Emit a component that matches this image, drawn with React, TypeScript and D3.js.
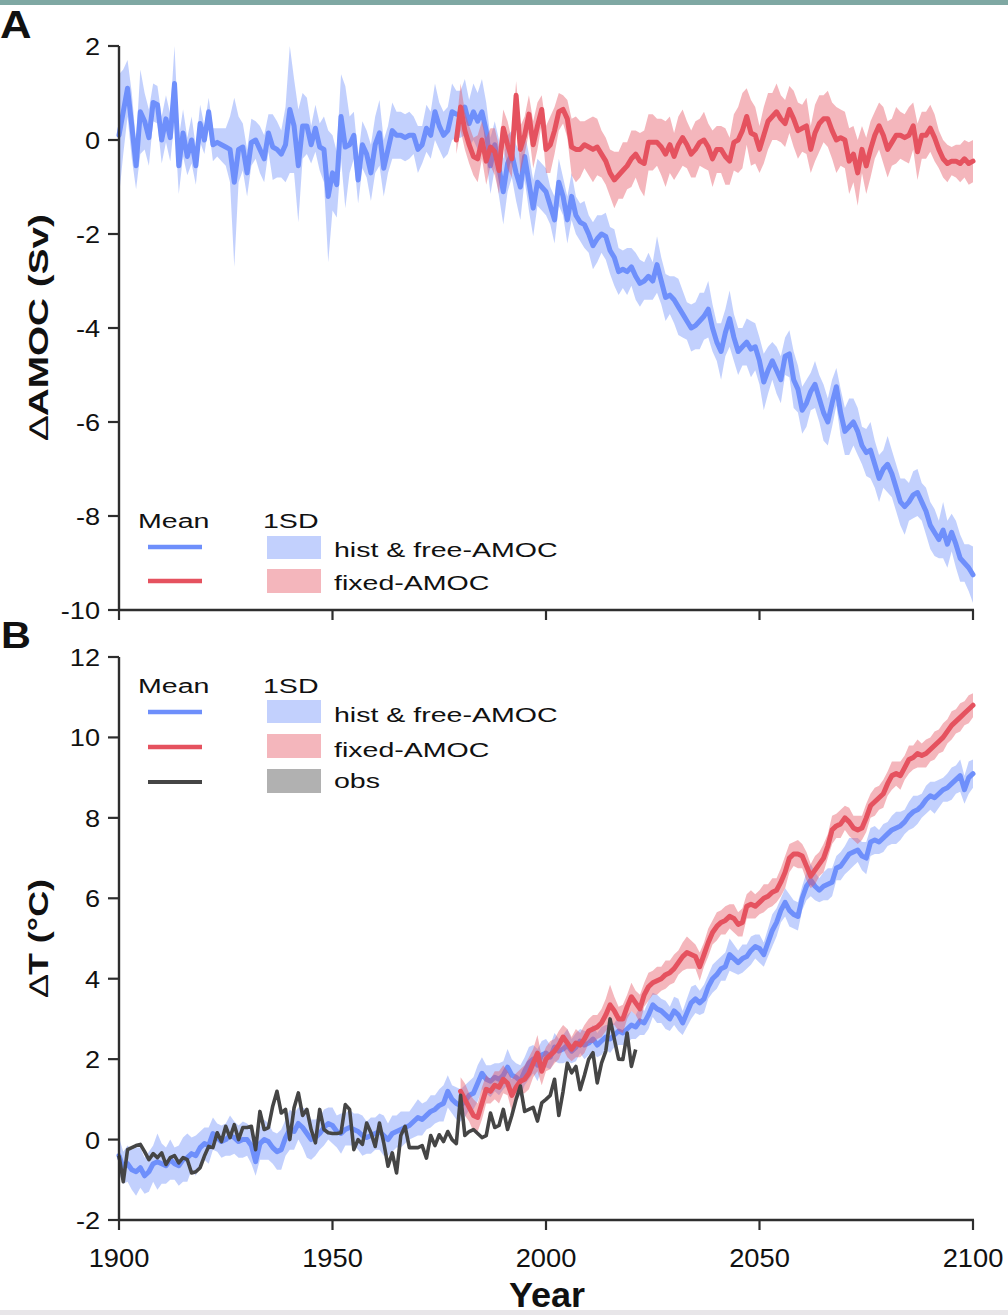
import React from "react";
import * as d3 from "d3";

// ---------- tick labels ----------
const xTicks = [1900, 1950, 2000, 2050, 2100];
const yTicksA = [2, 0, -2, -4, -6, -8, -10];
const yTicksB = [-2, 0, 2, 4, 6, 8, 10, 12];

// ---------- Panel A: AMOC anomaly (Sv) ----------
const amocFreeStart = 1900;
const amocFreeMean = [
  0.1, 0.6, 1.1, 0.3, -0.55, 0.6, 0.4, 0.05, 0.8, 0.75,
  0.0, 0.45, 0.05, 1.2, -0.55, 0.15, -0.35, 0.0, -0.55, 0.35,
  0.0, 0.6, -0.1, -0.05, -0.1, -0.15, -0.2, -0.9, -0.2, -0.15,
  -0.7, -0.05, 0.0, -0.2, -0.4, 0.15, -0.15, -0.2, -0.3, -0.1,
  0.65, 0.3, -0.55, 0.3, 0.3, -0.1, 0.25, -0.15, -0.2, -1.2,
  -0.7, -0.95, 0.5, -0.15, -0.1, 0.1, -0.85, -0.1, -0.3, -0.7,
  -0.1, 0.15, -0.6, -0.2, 0.2, 0.1, 0.1, 0.05, 0.1, 0.1,
  -0.2, -0.1, 0.25, 0.1, 0.6, 0.3, 0.1, 0.2, 0.6, 0.55,
  0.55, 0.7, 0.35, 0.6, 0.4, 0.6, 0.2, -0.55, -0.1, -0.6,
  -1.1, -0.5, -0.3, -0.7, -1.0, -0.35, -0.9, -1.45, -0.9, -1.0,
  -1.1, -1.4, -1.7, -0.9, -1.2, -1.7, -1.2, -1.6, -1.75, -1.8,
  -2.0, -2.25, -2.1, -2.0, -2.05, -2.35, -2.5, -2.8, -2.75, -2.8,
  -2.7, -2.9, -3.05, -3.0, -2.9, -3.0, -2.65, -3.0, -3.35, -3.3,
  -3.4, -3.55, -3.7, -3.85, -4.0, -3.95, -3.85, -3.75, -3.6, -4.0,
  -4.3, -4.5, -4.1, -3.8, -4.2, -4.5, -4.4, -4.3, -4.45, -4.4,
  -4.7, -5.15, -4.9, -4.7, -4.9, -5.1, -4.6, -4.55, -5.1, -5.3,
  -5.75, -5.6, -5.35, -5.2, -5.5, -5.8, -6.0, -5.6, -5.25, -5.8,
  -6.2, -6.1, -6.0, -6.2, -6.5, -6.65, -6.6, -6.9, -7.2, -7.0,
  -6.9, -7.1, -7.4, -7.7, -7.8, -7.7, -7.55, -7.5, -7.7, -7.9,
  -8.2, -8.35, -8.5, -8.3, -8.6, -8.35, -8.6, -8.9, -9.0, -9.1,
  -9.25,
];
const amocFreeSd = [
  1.3, 0.9, 0.6, 0.7, 0.5, 0.9, 0.6, 0.6, 0.4, 0.4,
  0.5, 0.5, 0.5, 0.8, 0.6, 0.5, 0.4, 0.5, 0.4, 0.4,
  0.3, 0.3, 0.35, 0.3, 0.35, 0.4, 0.7, 1.8, 0.7, 0.5,
  0.5, 0.5, 0.4, 0.5, 0.5, 0.4, 0.7, 0.6, 0.5, 0.8,
  1.35, 1.0, 1.2, 0.7, 0.6, 0.4, 0.5, 0.5, 0.7, 1.4,
  0.8, 0.7, 0.9, 1.3, 0.6, 0.5, 0.5, 0.5, 0.5, 0.6,
  0.6, 0.7, 0.6, 0.5, 0.6, 0.5, 0.5, 0.5, 0.5, 0.4,
  0.5, 0.4, 0.5, 0.5, 0.6, 0.5, 0.5, 0.5, 0.6, 0.5,
  0.5, 0.6, 0.5, 0.6, 0.6, 0.7, 0.6, 0.6, 0.5, 0.6,
  0.7, 0.6, 0.5, 0.6, 0.7, 0.5, 0.6, 0.6, 0.5, 0.5,
  0.5, 0.4, 0.5, 0.5, 0.4, 0.5, 0.5, 0.4, 0.4, 0.5,
  0.4, 0.5, 0.5, 0.4, 0.5, 0.5, 0.6, 0.5, 0.4, 0.5,
  0.4, 0.5, 0.5, 0.4, 0.5, 0.4, 0.6, 0.5, 0.5, 0.4,
  0.5, 0.6, 0.5, 0.4, 0.5, 0.5, 0.6, 0.5, 0.6, 0.5,
  0.4, 0.6, 0.5, 0.6, 0.5, 0.5, 0.4, 0.5, 0.6, 0.5,
  0.5, 0.6, 0.5, 0.4, 0.5, 0.5, 0.4, 0.5, 0.6, 0.5,
  0.5, 0.5, 0.4, 0.5, 0.5, 0.6, 0.5, 0.5, 0.4, 0.5,
  0.5, 0.6, 0.5, 0.5, 0.4, 0.5, 0.6, 0.5, 0.5, 0.4,
  0.6, 0.5, 0.5, 0.5, 0.6, 0.4, 0.5, 0.5, 0.4, 0.5,
  0.5, 0.5, 0.4, 0.6, 0.5, 0.4, 0.5, 0.5, 0.4, 0.5,
  0.6,
];
const amocFixedStart = 1979;
const amocFixedMean = [
  0.0,
  0.7, 0.2, -0.1, -0.35, -0.4, 0.0, -0.45, -0.15, -0.25, -0.65,
  0.25, -0.1, -0.4, 0.95, -0.2, 0.1, 0.55, -0.1, 0.3, 0.65,
  -0.2, -0.1, 0.2, 0.6, 0.65, 0.45, -0.15, -0.2, -0.2, -0.1,
  -0.15, -0.2, -0.15, -0.3, -0.45, -0.7, -0.85, -0.75, -0.65, -0.55,
  -0.4, -0.3, -0.45, -0.5, -0.05, -0.05, -0.05, -0.15, -0.3, -0.1,
  -0.35, -0.1, 0.05, -0.1, -0.3, -0.2, -0.05, 0.0, -0.15, -0.4,
  -0.2, -0.2, -0.35, -0.45, -0.05, 0.0, 0.2, 0.5, 0.15, 0.1,
  -0.2, 0.1, 0.4, 0.5, 0.6, 0.45, 0.35, 0.65, 0.45, 0.2,
  0.25, 0.3, -0.2, 0.15, 0.35, 0.45, 0.45, 0.2, 0.0, 0.05,
  0.0, -0.45, -0.3, -0.7, -0.2, -0.55, -0.2, 0.1, 0.3, 0.1,
  -0.2, -0.05, 0.1, 0.1, 0.05, 0.1, 0.3, -0.25, 0.1, 0.1,
  0.25, 0.05, -0.2, -0.4, -0.5, -0.45, -0.45, -0.5, -0.4, -0.5,
  -0.45,
];
const amocFixedSd = [
  0.3,
  0.5, 0.4, 0.4, 0.4, 0.5, 0.4, 0.5, 0.4, 0.5, 0.5,
  0.4, 0.5, 0.4, 0.3, 0.5, 0.4, 0.4, 0.5, 0.5, 0.3,
  0.5, 0.6, 0.5, 0.4, 0.3, 0.4, 0.6, 0.7, 0.6, 0.5,
  0.6, 0.7, 0.6, 0.5, 0.5, 0.5, 0.6, 0.5, 0.6, 0.5,
  0.6, 0.5, 0.6, 0.7, 0.6, 0.6, 0.5, 0.6, 0.7, 0.6,
  0.5, 0.6, 0.6, 0.5, 0.5, 0.6, 0.5, 0.6, 0.5, 0.6,
  0.5, 0.5, 0.6, 0.5, 0.6, 0.7, 0.8, 0.6, 0.7, 0.6,
  0.5, 0.6, 0.6, 0.5, 0.6, 0.5, 0.5, 0.5, 0.6, 0.6,
  0.5, 0.6, 0.5, 0.6, 0.6, 0.5, 0.6, 0.6, 0.7, 0.6,
  0.6, 0.7, 0.6, 0.7, 0.5, 0.6, 0.6, 0.5, 0.5, 0.6,
  0.6, 0.5, 0.6, 0.5, 0.5, 0.6, 0.5, 0.6, 0.5, 0.5,
  0.5, 0.5, 0.4, 0.4, 0.4, 0.3, 0.35, 0.4, 0.4, 0.45,
  0.45,
];

// ---------- Panel B: temperature anomaly (°C) ----------
const tFreeStart = 1900;
const tFreeMean = [
  -0.4, -0.7, -0.6, -0.75, -0.8, -0.7, -0.9, -0.8, -0.6, -0.55,
  -0.6, -0.65, -0.5, -0.6, -0.65, -0.5, -0.45, -0.35, -0.4, -0.2,
  -0.1, -0.15, 0.15, 0.05, -0.05, 0.0, 0.1, 0.05, -0.05, 0.0,
  0.0, -0.15, -0.55, -0.1, 0.0, -0.05, -0.2, -0.3, -0.25, 0.05,
  0.25, 0.2, 0.4, 0.3, 0.15, 0.0, 0.05, 0.15, 0.3, 0.4,
  0.35, 0.2, 0.15, 0.25, 0.3, 0.25, 0.2, 0.1, 0.05, 0.1,
  0.15, 0.2, 0.1, 0.0, 0.15, 0.2, 0.25, 0.3, 0.35, 0.45,
  0.55, 0.5, 0.6, 0.7, 0.75, 0.85, 0.9, 1.2, 1.0, 0.9,
  0.85, 0.95, 1.1, 1.15, 1.4, 1.65, 1.5, 1.45, 1.55, 1.5,
  1.6, 1.8, 1.6, 1.55, 1.45, 1.7, 1.9, 2.0, 1.85, 2.1,
  2.15, 2.05, 2.3, 2.2, 2.25, 2.35, 2.2, 2.3, 2.45, 2.35,
  2.4, 2.5, 2.35, 2.45, 2.55, 2.5, 2.6, 2.7, 2.65, 2.75,
  2.85, 2.8, 2.95, 2.9, 3.1, 3.35, 3.25, 3.2, 3.1, 3.0,
  3.2, 3.1, 2.9, 3.15, 3.4, 3.5, 3.4, 3.5, 3.8, 4.0,
  4.1, 4.25, 4.3, 4.6, 4.5, 4.4, 4.5, 4.55, 4.7, 4.8,
  4.75, 4.6, 4.9, 5.2, 5.4, 5.7, 5.9, 5.7, 5.6, 5.55,
  6.0, 6.3, 6.45, 6.3, 6.2, 6.3, 6.35, 6.4, 6.75, 6.8,
  6.95, 7.1, 7.15, 7.2, 7.05, 7.0, 7.4, 7.45, 7.4, 7.5,
  7.6, 7.7, 7.75, 7.8, 7.9, 8.05, 8.15, 8.2, 8.3, 8.45,
  8.55, 8.5, 8.6, 8.7, 8.75, 8.85, 8.95, 9.05, 8.7, 9.0,
  9.1,
];
const tFreeSd = [
  0.45, 0.4, 0.45, 0.5, 0.6, 0.5, 0.45, 0.5, 0.45, 0.7,
  0.5, 0.45, 0.5, 0.4, 0.5, 0.55, 0.6, 0.4, 0.5, 0.4,
  0.4, 0.45, 0.4, 0.35, 0.4, 0.4, 0.5, 0.4, 0.4, 0.45,
  0.4, 0.45, 0.35, 0.4, 0.5, 0.45, 0.4, 0.45, 0.5, 0.45,
  0.5, 0.45, 0.4, 0.5, 0.6, 0.5, 0.45, 0.4, 0.45, 0.4,
  0.45, 0.4, 0.5, 0.4, 0.45, 0.4, 0.45, 0.5, 0.4, 0.45,
  0.4, 0.45, 0.5, 0.4, 0.45, 0.4, 0.45, 0.4, 0.35, 0.4,
  0.45, 0.4, 0.35, 0.4, 0.35, 0.4, 0.45, 0.4, 0.35, 0.4,
  0.4, 0.4, 0.35, 0.4, 0.45, 0.4, 0.35, 0.4, 0.35, 0.4,
  0.35, 0.45, 0.4, 0.35, 0.4, 0.35, 0.4, 0.35, 0.4, 0.35,
  0.35, 0.3, 0.35, 0.3, 0.35, 0.4, 0.3, 0.35, 0.3, 0.35,
  0.3, 0.35, 0.3, 0.35, 0.3, 0.35, 0.3, 0.35, 0.3, 0.35,
  0.35, 0.3, 0.35, 0.3, 0.35, 0.3, 0.35, 0.3, 0.35, 0.3,
  0.35, 0.4, 0.3, 0.35, 0.4, 0.35, 0.3, 0.35, 0.3, 0.35,
  0.35, 0.3, 0.35, 0.4, 0.35, 0.3, 0.35, 0.3, 0.35, 0.3,
  0.35, 0.3, 0.35, 0.4, 0.35, 0.3, 0.35, 0.4, 0.35, 0.35,
  0.3, 0.35, 0.4, 0.35, 0.3, 0.35, 0.4, 0.35, 0.3, 0.35,
  0.35, 0.4, 0.35, 0.3, 0.35, 0.4, 0.35, 0.35, 0.3, 0.35,
  0.3, 0.35, 0.4, 0.35, 0.3, 0.35, 0.4, 0.35, 0.3, 0.35,
  0.35, 0.4, 0.35, 0.3, 0.35, 0.4, 0.35, 0.4, 0.35, 0.4,
  0.35,
];
const tFixedStart = 1980;
const tFixedMean = [
  1.2, 1.0, 0.8, 0.6, 0.55, 0.9, 1.25, 1.2, 1.35, 1.3,
  1.5, 1.4, 1.1, 1.3, 1.45, 1.5, 1.65, 1.9, 2.15, 1.7,
  2.0, 2.1, 2.2, 2.35, 2.55, 2.4, 2.25, 2.4, 2.35, 2.5,
  2.7, 2.75, 2.8, 2.9, 3.1, 3.35, 3.2, 3.0, 3.0, 3.3,
  3.55, 3.4, 3.25, 3.6, 3.8, 3.9, 3.95, 4.0, 4.1, 4.15,
  4.25, 4.4, 4.55, 4.65, 4.6, 4.55, 4.3, 4.6, 4.9, 5.15,
  5.3, 5.4, 5.45, 5.55, 5.5, 5.35, 5.4, 5.8, 5.85, 5.8,
  5.9, 6.0, 6.05, 6.15, 6.2, 6.4, 6.65, 7.0, 7.1, 7.1,
  7.05, 6.8, 6.55, 6.7, 6.85, 7.0, 7.3, 7.7, 7.8, 7.85,
  8.0, 7.9, 7.75, 7.7, 7.75, 8.0, 8.3, 8.4, 8.5, 8.6,
  8.85, 9.05, 9.1, 9.05, 9.25, 9.45, 9.5, 9.6, 9.55, 9.6,
  9.7, 9.8, 9.9, 10.0, 10.15, 10.3, 10.4, 10.5, 10.6, 10.7,
  10.8,
];
const tFixedSd = [
  0.35, 0.4, 0.35, 0.4, 0.35, 0.4, 0.35, 0.3, 0.35, 0.4,
  0.35, 0.3, 0.4, 0.35, 0.3, 0.35, 0.4, 0.35, 0.45, 0.35,
  0.3, 0.35, 0.3, 0.35, 0.3, 0.35, 0.3, 0.35, 0.3, 0.35,
  0.3, 0.35, 0.3, 0.35, 0.4, 0.5, 0.35, 0.3, 0.35, 0.3,
  0.35, 0.3, 0.35, 0.3, 0.35, 0.3, 0.35, 0.3, 0.35, 0.3,
  0.35, 0.3, 0.35, 0.4, 0.35, 0.3, 0.35, 0.3, 0.35, 0.3,
  0.35, 0.3, 0.35, 0.3, 0.35, 0.3, 0.35, 0.3, 0.35, 0.3,
  0.3, 0.35, 0.3, 0.35, 0.3, 0.35, 0.4, 0.35, 0.3, 0.35,
  0.3, 0.35, 0.3, 0.35, 0.3, 0.35, 0.3, 0.35, 0.3, 0.35,
  0.3, 0.35, 0.3, 0.35, 0.3, 0.35, 0.3, 0.35, 0.3, 0.35,
  0.3, 0.35, 0.3, 0.35, 0.3, 0.35, 0.3, 0.35, 0.3, 0.35,
  0.3, 0.35, 0.3, 0.35, 0.3, 0.35, 0.3, 0.35, 0.3, 0.35,
  0.3,
];
const obsStart = 1900;
const obsT = [
  -0.4, -1.05, -0.25, -0.2, -0.15, -0.12, -0.3, -0.5, -0.35, -0.45,
  -0.33, -0.62, -0.45, -0.4, -0.58, -0.45, -0.5, -0.83, -0.8, -0.7,
  -0.41, -0.17, -0.2, 0.17, -0.05, 0.33, 0.05, 0.37, 0.0, 0.3,
  0.3, 0.33, -0.25, 0.7, 0.25, 0.3, 0.83, 1.2, 0.66, 0.75,
  0.0, 0.79, 1.16, 0.6, 0.75, 0.25, -0.08, 0.75, 0.25, 0.17,
  0.15, 0.15, 0.17, 0.87, 0.75, -0.25, 0.0, -0.12, 0.41, 0.17,
  -0.17, 0.41, -0.08, -0.66, -0.33, -0.83, 0.1, 0.33, -0.2, -0.2,
  -0.2, -0.15, -0.46, 0.1, -0.15, 0.12, -0.05, 0.2, 0.0, -0.1,
  1.1, 0.1, 0.2, 0.25, 0.15, 0.05, 0.1, 0.66, 0.3, 0.35,
  0.75, 0.25, 0.6, 1.0, 1.33, 0.7, 0.75, 0.8, 0.46, 0.91,
  1.0, 1.1, 1.5, 0.6, 1.2, 1.9, 1.66, 1.82, 1.24, 1.6,
  2.0, 2.16, 1.41, 1.9, 2.2, 3.0, 2.5, 2.0, 1.99, 2.65,
  1.82, 2.24,
];

// ---------- style ----------
const BLUE = "#6e8ffb";
const RED = "#e5525f";
const BLUE_BAND = "rgba(110,143,251,0.42)";
const RED_BAND = "rgba(229,82,95,0.42)";
const OBS = "#454545";
const AXIS = "#2e2e2e";
const FONT = "'Liberation Sans', Arial, Helvetica, sans-serif";

type P = { year: number; m: number; sd: number };
const mk = (start: number, mean: number[], sd?: number[]): P[] =>
  mean.map((m, i) => ({ year: start + i, m, sd: sd ? sd[i] : 0 }));

const Txt = ({ x, y, size = 21, sx = 1.36, weight = "normal", anchor = "start", children }: any) => (
  <text
    transform={`translate(${x},${y}) scale(${sx},1)`}
    fontSize={size}
    fontWeight={weight}
    textAnchor={anchor}
    fontFamily={FONT}
    fill="#111"
  >
    {children}
  </text>
);

export default function App() {
  const x = d3.scaleLinear().domain([1900, 2100]).range([119, 973]);
  const yA = d3.scaleLinear().domain([-10, 2]).range([610, 46]);
  const yB = d3.scaleLinear().domain([-2, 12]).range([1220, 657]);

  const band = (y: d3.ScaleLinear<number, number>) =>
    d3
      .area<P>()
      .x((d) => x(d.year))
      .y0((d) => y(d.m - d.sd))
      .y1((d) => y(d.m + d.sd));
  const line = (y: d3.ScaleLinear<number, number>) =>
    d3
      .line<P>()
      .x((d) => x(d.year))
      .y((d) => y(d.m));

  const aFree = mk(amocFreeStart, amocFreeMean, amocFreeSd);
  const aFixed = mk(amocFixedStart, amocFixedMean, amocFixedSd);
  const tFree = mk(tFreeStart, tFreeMean, tFreeSd);
  const tFixed = mk(tFixedStart, tFixedMean, tFixedSd);
  const obs = mk(obsStart, obsT);

  const lineProps = { fill: "none", strokeWidth: 5, strokeLinejoin: "round" as const, strokeLinecap: "round" as const };

  const yAxis = (y: d3.ScaleLinear<number, number>, ticks: number[]) => (
    <g>
      <line x1={119} x2={119} y1={y(d3.max(ticks) as number)} y2={y.range()[0]} stroke={AXIS} strokeWidth={2.4} />
      {ticks.map((t) => (
        <g key={t}>
          <line x1={108} x2={119} y1={y(t)} y2={y(t)} stroke={AXIS} strokeWidth={2.2} />
          <Txt x={100} y={y(t) + 9} size={23} sx={1.18} anchor="end">
            {String(t)}
          </Txt>
        </g>
      ))}
    </g>
  );
  const xAxis = (yPix: number, labels: boolean) => (
    <g>
      <line x1={118} x2={974} y1={yPix} y2={yPix} stroke={AXIS} strokeWidth={2.4} />
      {xTicks.map((t) => (
        <g key={t}>
          <line x1={x(t)} x2={x(t)} y1={yPix} y2={yPix + 10} stroke={AXIS} strokeWidth={2.2} />
          {labels && (
            <Txt x={x(t)} y={yPix + 47} size={26} sx={1.05} anchor="middle">
              {String(t)}
            </Txt>
          )}
        </g>
      ))}
    </g>
  );

  return (
    <div style={{ position: "absolute", left: 0, top: 0, width: 1008, height: 1315, background: "#fff" }}>
      <svg width={1008} height={1315} style={{ display: "block" }}>
        <rect x={0} y={0} width={1008} height={1315} fill="#fff" />
        <rect x={0} y={0} width={1008} height={5} fill="#7fa8a3" />
        <rect x={0} y={1310} width={1008} height={5} fill="#e8e6e9" />

        {/* Panel A */}
        <path d={band(yA)(aFree) || ""} fill={BLUE_BAND} />
        <path d={line(yA)(aFree) || ""} stroke={BLUE} {...lineProps} />
        <path d={band(yA)(aFixed) || ""} fill={RED_BAND} />
        <path d={line(yA)(aFixed) || ""} stroke={RED} {...lineProps} />
        {yAxis(yA, yTicksA)}
        {xAxis(610, false)}

        {/* Panel B */}
        <path d={band(yB)(tFree) || ""} fill={BLUE_BAND} />
        <path d={line(yB)(tFree) || ""} stroke={BLUE} {...lineProps} />
        <path d={band(yB)(tFixed) || ""} fill={RED_BAND} />
        <path d={line(yB)(tFixed) || ""} stroke={RED} {...lineProps} />
        <path d={line(yB)(obs) || ""} stroke={OBS} fill="none" strokeWidth={3.6} strokeLinejoin="round" />
        {yAxis(yB, yTicksB)}
        {xAxis(1220, true)}

        {/* Panel letters */}
        <Txt x={0} y={38} size={39} sx={1.12} weight="bold">A</Txt>
        <Txt x={1} y={648} size={37} sx={1.12} weight="bold">B</Txt>

        {/* Axis titles */}
        <text transform="translate(48,327) rotate(-90)" textAnchor="middle" fontFamily={FONT} fontSize={27} fontWeight="bold" fill="#111" textLength={226} lengthAdjust="spacingAndGlyphs">
          <tspan fontWeight="normal">∆</tspan>AMOC (Sv)
        </text>
        <text transform="translate(48,938) rotate(-90)" textAnchor="middle" fontFamily={FONT} fontSize={27} fontWeight="bold" fill="#111" textLength={118} lengthAdjust="spacingAndGlyphs">
          <tspan fontWeight="normal">∆</tspan>T (°C)
        </text>
        <Txt x={547} y={1307} size={35} sx={1.03} weight="bold" anchor="middle">Year</Txt>

        {/* Legend A */}
        <Txt x={138} y={528}>Mean</Txt>
        <Txt x={263} y={528}>1SD</Txt>
        <line x1={148} x2={202} y1={547} y2={547} stroke={BLUE} strokeWidth={4.5} />
        <line x1={148} x2={202} y1={581} y2={581} stroke={RED} strokeWidth={4.5} />
        <rect x={267} y={536} width={54} height={23} fill={BLUE_BAND} />
        <rect x={267} y={569} width={54} height={24} fill={RED_BAND} />
        <Txt x={334} y={557}>hist &amp; free-AMOC</Txt>
        <Txt x={334} y={590}>fixed-AMOC</Txt>

        {/* Legend B */}
        <Txt x={138} y={693}>Mean</Txt>
        <Txt x={263} y={693}>1SD</Txt>
        <line x1={148} x2={202} y1={712} y2={712} stroke={BLUE} strokeWidth={4.5} />
        <line x1={148} x2={202} y1={747} y2={747} stroke={RED} strokeWidth={4.5} />
        <line x1={148} x2={202} y1={782} y2={782} stroke={OBS} strokeWidth={4} />
        <rect x={267} y={700} width={54} height={23} fill={BLUE_BAND} />
        <rect x={267} y={734} width={54} height={24} fill={RED_BAND} />
        <rect x={267} y={769} width={54} height={24} fill="#b1b1b1" />
        <Txt x={334} y={722}>hist &amp; free-AMOC</Txt>
        <Txt x={334} y={757}>fixed-AMOC</Txt>
        <Txt x={334} y={788}>obs</Txt>
      </svg>
    </div>
  );
}
